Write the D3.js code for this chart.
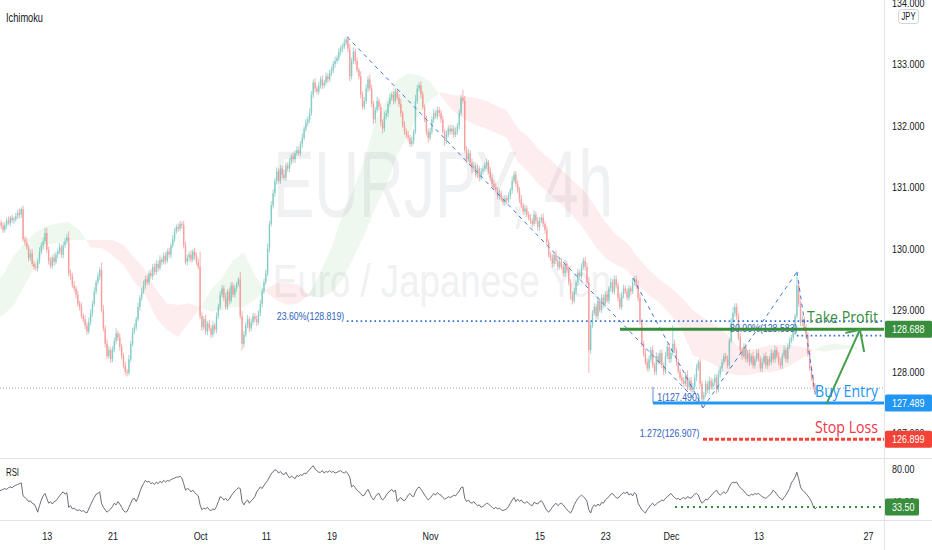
<!DOCTYPE html>
<html>
<head>
<meta charset="utf-8">
<script src="https://cdn.jsdelivr.net/npm/d3@7"></script>
<style>
  body { margin: 0; background: #fff; }
  svg { display: block; }
</style>
</head>
<body>
<svg id="chart" width="932" height="550"></svg>
<script>
// EURJPY 4h closes, 6 candles per trading day, Sep 6 -> Dec 20 (2021)
var closes = [
  130.36,130.40,130.33,130.38,130.42,130.37, // Sep 6
  130.30,130.38,130.45,130.41,130.50,130.46,
  130.48,130.52,130.58,130.55,130.64,130.15,
  130.10,130.02,129.85,129.92,129.75,129.70,
  129.68,129.80,129.95,130.05,130.12,130.25,
  129.98,129.80,129.72,129.85,129.78,129.90, // Sep 13
  129.95,130.02,129.90,130.05,130.12,130.18,
  129.60,129.55,129.40,129.35,129.25,129.10,
  129.05,128.90,128.85,128.75,128.65,128.80,
  128.95,129.10,129.30,129.45,129.55,129.65,
  129.00,128.70,128.45,128.25,128.35,128.20, // Sep 20
  128.35,128.50,128.62,128.55,128.40,128.25,
  128.10,128.00,127.98,128.20,128.45,128.65,
  128.72,128.85,129.05,129.20,129.30,129.40,
  129.50,129.45,129.60,129.55,129.70,129.62,
  129.75,129.68,129.82,129.78,129.88,129.80, // Sep 27
  129.95,129.90,130.05,130.15,130.28,130.35,
  130.32,130.40,130.38,130.05,129.78,129.85,
  129.90,129.82,129.95,129.88,129.78,129.70,
  128.90,128.72,128.85,128.65,128.78,128.70,
  128.60,128.75,128.68,128.90,129.05,129.25, // Oct 4
  129.35,129.20,129.05,129.30,129.15,129.40,
  129.25,129.35,129.42,129.50,128.90,128.45,
  128.60,128.75,128.85,128.70,128.80,128.90,
  128.85,128.80,128.95,129.10,129.30,129.45,
  129.60,130.00,130.40,130.70,130.90,131.10, // Oct 11
  131.25,131.10,131.30,131.20,131.15,131.35,
  131.30,131.40,131.50,131.45,131.55,131.60,
  131.55,131.70,131.80,131.95,132.05,132.10,
  132.20,132.50,132.70,132.60,132.55,132.65,
  132.75,132.65,132.70,132.80,132.75,132.85, // Oct 18
  132.90,133.00,133.05,133.10,133.20,133.25,
  133.28,133.35,133.40,133.25,132.80,133.05,
  133.20,133.05,132.90,132.80,132.50,132.30,
  132.40,132.60,132.75,132.60,132.35,132.10,
  132.25,132.40,132.30,132.05,131.95,132.15, // Oct 25
  132.20,132.35,132.45,132.50,132.40,132.55,
  132.45,132.35,132.20,132.00,131.90,131.85,
  131.80,131.70,131.75,131.90,132.40,132.60,
  132.65,132.50,132.30,132.10,131.90,131.80,
  131.90,132.10,132.20,132.15,132.25,132.20, // Nov 1
  132.10,131.90,131.75,131.85,131.95,131.90,
  131.95,131.85,131.90,132.00,132.20,132.45,
  132.40,131.60,131.45,131.55,131.40,131.30,
  131.35,131.20,131.30,131.15,131.25,131.30,
  131.35,131.40,131.25,131.15,131.05,131.00, // Nov 8
  130.95,130.85,130.90,130.80,130.75,130.82,
  130.78,130.85,130.95,131.10,131.20,131.05,
  130.95,130.80,130.70,130.60,130.65,130.55,
  130.50,130.45,130.40,130.55,130.45,130.35,
  130.45,130.50,130.40,130.30,130.10,129.90, // Nov 15
  129.85,129.75,129.90,129.80,129.70,129.78,
  129.70,129.60,129.75,129.65,129.45,129.25,
  129.15,129.30,129.45,129.60,129.55,129.70,
  129.80,129.70,129.45,128.35,128.75,128.95,
  129.05,128.90,129.15,129.00,129.20,129.10, // Nov 22
  129.25,129.15,129.35,129.45,129.30,129.50,
  129.40,129.20,129.05,129.25,129.35,129.30,
  129.20,129.35,129.30,129.45,129.50,129.40,
  129.20,128.80,128.45,128.30,128.15,128.05,
  128.20,128.35,128.10,128.00,128.25,128.15, // Nov 29
  128.30,128.10,128.00,128.25,128.40,128.20,
  128.30,128.45,128.35,128.15,128.00,127.90,
  127.85,127.80,127.95,127.75,127.85,127.70,
  127.75,127.90,128.05,128.15,127.80,127.55,
  127.62,127.80,127.70,127.85,127.75,127.82, // Dec 6
  127.90,127.70,127.95,128.05,128.15,128.25,
  128.20,128.10,128.50,128.80,128.95,129.05,
  128.90,128.55,128.35,128.25,128.40,128.20,
  128.30,128.15,128.25,128.10,128.20,128.30,
  128.20,128.05,128.15,128.25,128.10,128.20, // Dec 13
  128.15,128.30,128.20,128.35,128.25,128.15,
  128.10,128.25,128.35,128.20,128.40,128.50,
  128.55,128.65,128.90,129.40,129.10,128.80,
  128.85,128.70,128.60,128.30,128.05,127.90,
  127.75,127.70,127.73                        // Dec 20
];
var firstOpen = 130.33;

// upper / lower wick lengths in hundredths of a yen
var wickHi = [
  5,4,6,3,5,4, 6,4,5,7,3,5, 4,6,5,7,3,6, 5,8,4,6,7,5, 6,4,7,5,6,8,
  9,5,6,4,7,5, 5,7,4,6,5,6, 10,6,5,7,4,6, 5,7,4,6,5,8, 6,5,7,4,6,5,
  12,8,5,7,6,4, 6,5,8,4,7,5, 5,6,4,7,5,6, 6,4,7,5,6,8, 5,7,4,6,5,6,
  6,5,7,4,5,6, 5,6,4,7,5,4, 6,5,4,7,6,5, 5,7,4,6,5,6, 25,6,5,7,4,6,
  5,7,4,6,5,6, 6,5,8,4,6,5, 5,6,4,3,12,8, 6,5,7,4,6,5, 5,6,4,7,5,6,
  6,8,5,7,6,5, 7,5,6,4,8,5, 5,7,4,6,5,6, 6,5,7,4,6,5, 8,6,5,7,4,6,
  5,7,4,6,5,6, 6,5,7,4,6,5, 5,6,4,6,8,5, 7,5,6,4,8,5, 6,7,5,8,6,5,
  5,7,4,6,5,8, 6,5,7,4,6,5, 5,6,8,4,7,5, 6,5,7,4,10,6, 5,7,6,4,6,5,
  6,5,7,4,6,5, 5,6,4,7,5,6, 6,5,7,4,6,5, 13,8,6,7,5,6, 6,5,7,4,6,5,
  5,6,4,7,5,6, 6,5,7,4,6,5, 5,6,4,7,5,6, 6,5,7,4,6,5, 5,6,4,7,5,6,
  6,5,7,4,6,5, 5,6,4,7,5,6, 6,5,7,4,6,5, 5,6,4,7,5,6, 5,6,7,8,6,5,
  6,5,7,4,6,5, 5,6,4,7,5,6, 6,5,7,4,6,5, 5,6,4,7,5,6, 8,7,6,5,7,6,
  6,5,7,4,6,5, 5,6,4,7,5,6, 6,30,7,4,6,5, 5,6,4,7,5,6, 6,5,7,4,6,5,
  5,6,4,7,5,6, 6,5,7,4,6,5, 5,6,4,7,10,6, 6,5,7,4,6,5, 5,6,4,7,5,6,
  6,5,7,4,6,5, 5,6,4,7,5,6, 6,5,7,4,6,5, 5,6,4,22,6,5, 6,5,7,4,6,5,
  5,6,4
];
var wickLo = [
  4,5,3,6,4,5, 5,4,6,3,5,4, 6,5,4,6,5,4, 5,4,6,5,4,5, 4,6,5,4,6,5,
  5,6,4,5,6,4, 6,4,5,6,4,5, 5,6,4,5,6,4, 6,4,5,6,5,4, 5,6,4,5,4,6,
  4,5,6,5,4,6, 5,4,6,5,6,5, 5,6,6,4,5,4, 4,5,4,6,5,4, 6,4,5,4,6,5,
  5,6,4,5,4,6, 4,5,6,4,5,4, 5,4,6,5,4,6, 6,5,4,6,5,4, 5,6,4,5,6,4,
  6,4,5,6,4,5, 5,6,4,5,6,4, 4,5,6,4,5,10, 6,4,5,6,4,5, 5,6,4,5,6,4,
  4,5,6,4,5,6, 6,4,5,6,4,5, 5,6,4,5,6,4, 4,5,6,4,5,6, 6,4,5,6,4,5,
  5,6,4,5,6,4, 4,5,6,4,5,6, 6,4,5,6,8,5, 5,6,4,5,6,4, 4,5,6,4,5,8,
  6,4,5,6,8,5, 5,6,4,5,6,4, 4,5,6,4,5,6, 6,4,5,6,4,5, 5,6,4,5,6,8,
  4,5,6,4,5,6, 6,4,8,5,4,5, 5,6,4,5,6,4, 4,5,6,4,5,8, 6,4,5,6,4,5,
  5,6,4,5,6,4, 4,5,6,4,5,6, 6,4,5,6,4,5, 5,6,4,5,6,4, 4,5,6,4,5,6,
  6,4,5,6,4,5, 5,6,4,5,6,4, 4,5,6,4,5,8, 6,4,5,6,4,5, 5,6,4,37,6,4,
  4,5,6,4,5,6, 6,4,5,6,4,5, 5,6,4,5,6,4, 4,5,6,4,5,6, 6,4,5,6,4,5,
  5,6,4,5,6,4, 4,5,6,4,5,6, 6,4,5,6,4,5, 5,6,4,5,6,4, 4,5,6,4,5,13,
  6,4,5,6,4,5, 5,6,4,5,6,4, 4,5,6,4,5,6, 6,4,5,6,4,5, 5,6,4,5,6,4,
  4,5,6,4,5,6, 6,4,5,6,4,5, 5,6,4,5,6,4, 4,5,6,4,5,6, 6,4,5,6,4,5,
  5,4,6
];

// RSI(14), one value per candle
var rsi = [
  52,53,55,54,53,54, 55,56,55,57,58,57, 59,60,61,62,63,47, 45,43,40,41,38,37, 33,27,35,42,47,50,
  44,38,40,37,40,41, 44,47,50,52,49,51, 33,35,31,32,30,29, 30,28,29,27,26,31, 36,41,45,49,50,52,
  38,33,30,27,29,31, 34,38,36,40,37,33, 29,27,28,33,38,43, 44,40,45,52,58,62, 66,64,65,62,63,61,
  64,62,65,63,66,64, 66,65,67,68,69,70, 70,71,69,62,54,56, 55,52,54,51,49,47, 36,30,32,31,33,30,
  29,31,30,34,40,46, 45,42,44,41,43,47, 50,53,55,57,56,40, 36,40,42,38,41,43, 46,52,55,58,56,60,
  63,66,70,74,77,79, 78,75,77,74,73,76, 72,69,71,70,68,72, 71,73,72,75,74,77, 79,82,84,80,78,76,
  76,78,75,77,76,78, 76,77,75,76,77,78, 76,75,77,74,70,58, 60,57,54,52,50,47, 48,52,55,50,45,42,
  46,49,50,45,42,44, 48,51,53,55,52,54, 40,43,45,42,41,44, 48,50,47,46,52,56, 58,55,52,48,45,42,
  44,47,50,48,51,49, 48,45,43,44,46,45, 46,48,47,50,53,57, 58,44,40,42,39,38, 40,37,35,36,33,34,
  36,38,37,35,33,31, 33,31,32,30,29,30, 31,34,38,42,45,40, 43,40,42,39,38,40, 38,36,35,39,38,37,
  40,41,38,33,29,27, 30,33,36,38,35,37, 38,36,33,30,28,26, 30,36,40,44,46,48, 46,44,40,30,26,33,
  36,34,37,35,39,38, 42,44,46,49,50,47, 45,44,47,49,51,50, 52,48,50,47,51,49, 38,34,30,28,26,30,
  33,36,38,35,37,39, 40,42,41,44,46,48, 50,47,45,43,44,42, 44,45,43,46,45,44, 47,49,50,48,42,38,
  40,43,42,45,47,50, 52,54,50,48,50,52, 50,53,58,62,64,63, 64,60,57,55,53,50, 48,47,49,48,50,49,
  50,48,46,45,44,46, 48,50,54,52,49,46, 44,42,45,48,52,56, 63,66,70,76,68,58, 54,52,50,47,44,40,
  34,31,33.5
];

// Ichimoku cloud (already shifted forward), one value per trading day, Sep 6 -> Dec 24
var spanA = [
  129.41,129.57,129.89,130.09,130.27, 130.37,130.41,130.43,130.30,130.02,
  130.01,129.89,129.73,129.46,129.24, 128.87,128.67,128.56,128.80,129.02,
  129.33,129.52,129.81,129.94,129.57, 129.29,129.16,129.08,129.11,129.26,
  129.62,130.01,130.54,130.95,131.44, 132.06,132.41,132.74,132.85,132.82,
  132.71,132.48,132.25,132.12,132.02, 131.96,131.88,131.80,131.41,131.24,
  131.03,130.87,130.71,130.54,130.33, 130.06,129.85,129.73,129.65,129.41,
  129.24,129.11,128.92,128.67,128.27, 128.19,128.11,127.98,127.94,127.94,
  127.98,127.99,128.02,128.11,128.22, 128.35,128.43,128.45,128.43,128.41
];
var spanB = [
  128.84,128.92,129.08,129.41,129.73, 130.06,130.09,130.14,130.14,130.14,
  130.14,130.14,130.06,129.85,129.65, 129.33,129.11,129.08,129.11,129.05,
  128.97,129.00,129.05,129.05,129.16, 129.33,129.44,129.44,129.41,129.23,
  129.20,129.29,129.49,129.85,130.22, 130.66,131.03,131.52,131.85,132.20,
  132.41,132.54,132.50,132.48,132.45, 132.41,132.33,132.25,131.96,131.81,
  131.60,131.44,131.28,131.11,130.95, 130.71,130.43,130.22,130.09,129.85,
  129.65,129.49,129.36,129.20,129.00, 128.87,128.76,128.63,128.43,128.35,
  128.38,128.43,128.43,128.43,128.40, 128.35,128.32,128.35,128.37,128.37
];

// time axis: trading-day index (0 = Sep 13) and labels
var dateTicks = [0, 6, 14, 20, 26, 35, 45, 51, 57, 65, 75];
var dateLabels = ["13", "21", "Oct", "11", "19", "Nov", "15", "23", "Dec", "13", "27"];
var priceTicks = [127, 128, 129, 130, 131, 132, 133, 134];
var rsiTicks = [40, 80];

// trade plan levels
var takeProfit = 128.688, buyEntry = 127.489, stopLoss = 126.899;
var lastPrice = 127.73, rsiLast = 33.50;
var fibLevels = [
  { label: "23.60%(128.819)", price: 128.819, t0: 27.4, tx: 21.0, ty: 128.837, dotted: true },
  { label: "80.00%(128.583)", price: 128.583, t0: 68.5, tx: 62.4, ty: 128.640, dotted: true },
  { label: "1(127.490)", price: 127.490, t0: 55.4, tx: 55.75, ty: 127.520, dotted: false },
  { label: "1.272(126.907)", price: 126.907, t0: 59.9, tx: 54.15, ty: 126.935, dotted: false }
];
// harmonic legs (t, price)
var legs = [
  [[27.44, 133.44], [59.93, 127.41]],
  [[53.53, 129.52], [59.93, 127.41]],
  [[59.93, 127.41], [68.51, 129.62]],
  [[68.51, 129.62], [70.23, 127.57]]
];

var W = 932, H = 550, axisLeft = 884, priceBottom = 458, rsiTop = 459, rsiBottom = 520;
var svg = d3.select("#chart");
var font = "'Liberation Sans', Arial, sans-serif";

var x = d3.scaleLinear().domain([0, 75]).range([46.8, 868.05]);
var y = d3.scaleLinear().domain([127, 133]).range([433, 64]);
var yR = d3.scaleLinear().domain([40, 80]).range([501.6, 469]);

function candleT(i) { return Math.floor(i / 6) - 5 + (i % 6) / 6; }
// narrow a text horizontally (the reference type is condensed)
function squeeze(sel, k) {
  sel.each(function() {
    var s = d3.select(this);
    var x0 = +s.attr("x") || 0;
    s.attr("x", x0 / k).attr("transform", "scale(" + k + ",1)");
  });
}

svg.append("rect").attr("width", W).attr("height", H).attr("fill", "#fff");

var defs = svg.append("defs");
defs.append("clipPath").attr("id", "pricePane").append("rect")
  .attr("x", 0).attr("y", 0).attr("width", axisLeft).attr("height", priceBottom);
defs.append("clipPath").attr("id", "rsiPane").append("rect")
  .attr("x", 0).attr("y", rsiTop).attr("width", axisLeft).attr("height", rsiBottom - rsiTop);

var pane = svg.append("g").attr("clip-path", "url(#pricePane)");

// watermark
pane.append("text").attr("x", 273).attr("y", 217).text("EURJPY, 4h")
  .attr("font-family", font).attr("font-size", 95).attr("fill", "#f0f1f3")
  .attr("textLength", 340).attr("lengthAdjust", "spacingAndGlyphs");
pane.append("text").attr("x", 273).attr("y", 297).text("Euro / Japanese Yen")
  .attr("font-family", font).attr("font-size", 47).attr("fill", "#f0f1f3")
  .attr("textLength", 338).attr("lengthAdjust", "spacingAndGlyphs");

// cloud
var cloud = spanA.map(function(a, i) { return { t: i - 5, a: a, b: spanB[i] }; });
defs.append("clipPath").attr("id", "aboveB").append("path")
  .attr("d", d3.area().x(function(d) { return x(d.t); }).y0(0).y1(function(d) { return y(d.b); })(cloud));
defs.append("clipPath").attr("id", "belowB").append("path")
  .attr("d", d3.area().x(function(d) { return x(d.t); }).y0(function(d) { return y(d.b); }).y1(H)(cloud));
var cloudArea = d3.area().x(function(d) { return x(d.t); })
  .y0(function(d) { return y(d.a); }).y1(function(d) { return y(d.b); });
pane.append("g").attr("clip-path", "url(#aboveB)").append("path")
  .attr("d", cloudArea(cloud)).attr("fill", "rgba(76,175,80,0.09)");
pane.append("g").attr("clip-path", "url(#belowB)").append("path")
  .attr("d", cloudArea(cloud)).attr("fill", "rgba(242,54,69,0.09)");

// candles
var candles = closes.map(function(c, i) {
  var o = i ? closes[i - 1] : firstOpen;
  return { t: candleT(i), o: o, c: c,
    h: Math.max(o, c) + wickHi[i] / 100, l: Math.min(o, c) - wickLo[i] / 100 };
});
var cg = pane.append("g").attr("opacity", 0.55);
cg.selectAll("line.wick").data(candles).enter().append("line")
  .attr("x1", function(d) { return x(d.t); }).attr("x2", function(d) { return x(d.t); })
  .attr("y1", function(d) { return y(d.h); }).attr("y2", function(d) { return y(d.l); })
  .attr("stroke", function(d) { return d.c >= d.o ? "#26a69a" : "#ef5350"; })
  .attr("stroke-width", 0.8);
cg.selectAll("rect").data(candles).enter().append("rect")
  .attr("x", function(d) { return x(d.t) - 0.7; }).attr("width", 1.4)
  .attr("y", function(d) { return y(Math.max(d.o, d.c)); })
  .attr("height", function(d) { return Math.max(0.8, Math.abs(y(d.o) - y(d.c))); })
  .attr("fill", function(d) { return d.c >= d.o ? "#26a69a" : "#ef5350"; });

// last price line
pane.append("line").attr("x1", 0).attr("x2", axisLeft)
  .attr("y1", y(lastPrice)).attr("y2", y(lastPrice))
  .attr("stroke", "#7f8a8c").attr("stroke-width", 0.8).attr("stroke-dasharray", "1,2");

// harmonic legs
pane.selectAll("line.leg").data(legs).enter().append("line")
  .attr("x1", function(d) { return x(d[0][0]); }).attr("y1", function(d) { return y(d[0][1]); })
  .attr("x2", function(d) { return x(d[1][0]); }).attr("y2", function(d) { return y(d[1][1]); })
  .attr("stroke", "#3f78dc").attr("stroke-width", 1).attr("stroke-dasharray", "4,4");

// fib levels
fibLevels.forEach(function(f) {
  if (f.dotted) {
    pane.append("line").attr("x1", x(f.t0)).attr("x2", axisLeft)
      .attr("y1", y(f.price)).attr("y2", y(f.price))
      .attr("stroke", "#2f6fd6").attr("stroke-width", 1.6).attr("stroke-dasharray", "1.6,3");
  }
  var tt = pane.append("text").attr("x", x(f.tx)).attr("y", y(f.ty)).text(f.label)
    .attr("font-family", font).attr("font-size", 11).attr("fill", "#2f63c0");
  squeeze(tt, 0.8);
});
pane.append("line").attr("x1", x(55.36)).attr("x2", x(55.36))
  .attr("y1", y(127.75)).attr("y2", y(buyEntry))
  .attr("stroke", "#5b8fd6").attr("stroke-width", 1);

// trade plan lines
pane.append("line").attr("x1", x(52.35)).attr("x2", axisLeft)
  .attr("y1", y(takeProfit)).attr("y2", y(takeProfit))
  .attr("stroke", "#388e3c").attr("stroke-width", 3);
pane.append("line").attr("x1", x(55.36)).attr("x2", axisLeft)
  .attr("y1", y(buyEntry)).attr("y2", y(buyEntry))
  .attr("stroke", "#2196f3").attr("stroke-width", 3);
pane.append("line").attr("x1", x(59.93)).attr("x2", axisLeft)
  .attr("y1", y(stopLoss)).attr("y2", y(stopLoss))
  .attr("stroke", "#f44336").attr("stroke-width", 3).attr("stroke-dasharray", "4,2");

// arrow
var arrow = [[71.25, 127.49], [74.26, 128.68]];
var arms = [[73.0, 128.63], [74.63, 128.33]];
var ag = pane.append("g").attr("stroke", "#43a047").attr("stroke-width", 2).attr("fill", "none")
  .attr("stroke-linecap", "round");
ag.append("line").attr("x1", x(arrow[0][0])).attr("y1", y(arrow[0][1]))
  .attr("x2", x(arrow[1][0])).attr("y2", y(arrow[1][1]));
arms.forEach(function(a) {
  ag.append("line").attr("x1", x(arrow[1][0])).attr("y1", y(arrow[1][1]))
    .attr("x2", x(a[0])).attr("y2", y(a[1]));
});

// trade plan texts
[["Take Profit", 128.79, "#388e3c", 71], ["Buy Entry", 127.585, "#2196f3", 63], ["Stop Loss", 127.0, "#f23645", 63]]
  .forEach(function(d) {
    pane.append("text").attr("x", 878).attr("y", y(d[1])).attr("text-anchor", "end").text(d[0])
      .attr("font-family", "'Open Sans', Lato, sans-serif").attr("font-size", 17).attr("fill", d[2])
      .attr("textLength", d[3]).attr("lengthAdjust", "spacingAndGlyphs");
  });

// RSI pane
var rg = svg.append("g").attr("clip-path", "url(#rsiPane)");
rg.append("path").datum(rsi)
  .attr("d", d3.line().x(function(d, i) { return x(candleT(i)); }).y(function(d) { return yR(d); }))
  .attr("fill", "none").attr("stroke", "#5a5e6b").attr("stroke-width", 0.9);
rg.append("line").attr("x1", x(57.37)).attr("x2", axisLeft)
  .attr("y1", yR(rsiLast)).attr("y2", yR(rsiLast))
  .attr("stroke", "#388e3c").attr("stroke-width", 2).attr("stroke-dasharray", "2,4");

// separators
var sep = svg.append("g").attr("stroke", "#e0e3eb").attr("stroke-width", 1);
sep.append("line").attr("x1", 0).attr("x2", W).attr("y1", priceBottom + 0.5).attr("y2", priceBottom + 0.5);
sep.append("line").attr("x1", 0).attr("x2", W).attr("y1", rsiBottom + 0.5).attr("y2", rsiBottom + 0.5);
sep.append("line").attr("x1", axisLeft + 0.5).attr("x2", axisLeft + 0.5).attr("y1", 0).attr("y2", H);

// axes
var ax = svg.append("g").attr("transform", "translate(" + axisLeft + ",0)")
  .call(d3.axisRight(y).tickValues(priceTicks).tickFormat(d3.format(".3f")).tickSize(0).tickPadding(8));
var axR = svg.append("g").attr("transform", "translate(" + axisLeft + ",0)")
  .call(d3.axisRight(yR).tickValues(rsiTicks).tickFormat(d3.format(".2f")).tickSize(0).tickPadding(8));
var axB = svg.append("g").attr("transform", "translate(0,529)")
  .call(d3.axisBottom(x).tickValues(dateTicks).tickFormat(function(d, i) { return dateLabels[i]; }).tickSize(0));
[ax, axR, axB].forEach(function(g) {
  g.select(".domain").remove();
  g.selectAll("text").attr("font-family", font).attr("font-size", 11.5).attr("fill", "#131722");
  squeeze(g.selectAll("text"), 0.78);
});

// JPY badge
svg.append("rect").attr("x", 898.5).attr("y", 9.5).attr("width", 20).attr("height", 14).attr("rx", 3)
  .attr("fill", "#fff").attr("stroke", "#d1d4dc");
svg.append("text").attr("x", 908.5).attr("y", 20).attr("text-anchor", "middle").text("JPY")
  .attr("font-family", font).attr("font-size", 10).attr("fill", "#131722")
  .attr("textLength", 14).attr("lengthAdjust", "spacingAndGlyphs");

// axis price boxes
var boxes = [
  { v: y(takeProfit), txt: d3.format(".3f")(takeProfit), c: "#388e3c", w: 47 },
  { v: y(buyEntry), txt: d3.format(".3f")(buyEntry), c: "#2196f3", w: 47 },
  { v: y(stopLoss), txt: d3.format(".3f")(stopLoss), c: "#f44336", w: 47 },
  { v: yR(rsiLast), txt: d3.format(".2f")(rsiLast), c: "#388e3c", w: 34 }
];
boxes.forEach(function(b) {
  svg.append("rect").attr("x", axisLeft + 1).attr("y", b.v - 8.5).attr("width", b.w).attr("height", 17)
    .attr("rx", 1.5).attr("fill", b.c);
  var t = svg.append("text").attr("x", axisLeft + 8).attr("y", b.v + 4).text(b.txt)
    .attr("font-family", font).attr("font-size", 11.5).attr("fill", "#fff");
  squeeze(t, 0.78);
});

// pane titles
svg.append("text").attr("x", 6).attr("y", 22).text("Ichimoku")
  .attr("font-family", font).attr("font-size", 12).attr("fill", "#131722")
  .attr("textLength", 37).attr("lengthAdjust", "spacingAndGlyphs");
svg.append("text").attr("x", 6).attr("y", 476).text("RSI")
  .attr("font-family", font).attr("font-size", 11).attr("fill", "#131722")
  .attr("textLength", 13).attr("lengthAdjust", "spacingAndGlyphs");
</script>
</body>
</html>
